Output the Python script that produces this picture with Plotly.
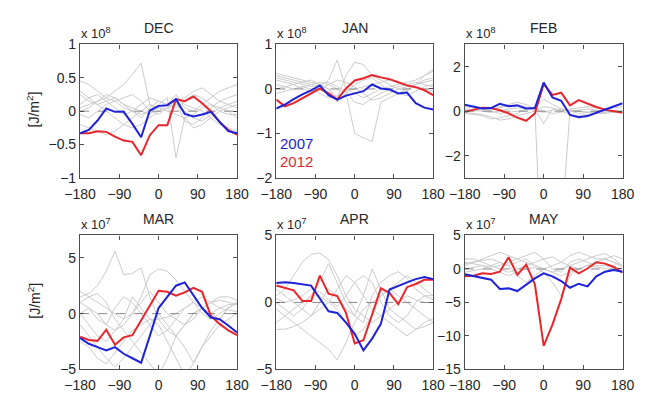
import plotly.graph_objects as go
from plotly.subplots import make_subplots

# ---------------- data ----------------
lons = [-180, -160, -140, -120, -100, -80, -60, -40, -20, 0, 20, 40, 60, 80, 100, 120, 140, 160, 180]
months = ["DEC", "JAN", "FEB", "MAR", "APR", "MAY"]
exponents = [8, 8, 8, 7, 7, 7]
y_ranges = [[-1, 1], [-2, 1], [-3, 3], [-5, 7], [-5, 5], [-15, 5]]
y_ticks = [[-1, -0.5, 0, 0.5, 1], [-2, -1, 0, 1], [-2, 0, 2], [-5, 0, 5], [-5, 0, 5], [-15, -10, -5, 0, 5]]
x_ticks = [-180, -90, 0, 90, 180]
zero_level = [0, 0]

# 2007 (blue)
dec_2007 = [-0.33, -0.28, -0.14, 0.04, -0.01, -0.01, -0.19, -0.39, 0.01, 0.08, 0.09, 0.18, -0.04, -0.08, -0.05, -0.01, -0.16, -0.30, -0.33]
jan_2007 = [-0.44, -0.35, -0.23, -0.12, -0.03, 0.08, -0.14, -0.24, -0.15, -0.10, -0.05, 0.10, 0.01, -0.01, -0.10, -0.08, -0.32, -0.42, -0.46]
feb_2007 = [0.29, 0.19, 0.12, 0.14, 0.33, 0.22, 0.26, 0.12, 0.14, 1.29, 0.62, 0.47, -0.17, -0.27, -0.22, -0.07, 0.07, 0.23, 0.36]
mar_2007 = [-2.2, -2.7, -3.0, -3.3, -3.0, -3.6, -4.0, -4.4, -2.0, 0.5, 1.5, 2.5, 2.8, 1.7, 0.5, -0.35, -0.5, -1.06, -1.7]
apr_2007 = [1.45, 1.5, 1.45, 1.33, 1.26, 0.3, -0.66, -0.78, -1.5, -2.34, -3.58, -2.7, -1.6, 0.97, 1.26, 1.5, 1.74, 1.9, 1.74]
may_2007 = [-0.8, -1.1, -1.4, -1.6, -3.0, -2.9, -3.3, -2.3, -1.4, -0.65, -1.1, -1.8, -2.8, -2.2, -2.6, -1.1, -0.4, -0.17, -0.4]

# 2012 (red)
dec_2012 = [-0.33, -0.33, -0.30, -0.31, -0.38, -0.44, -0.46, -0.66, -0.36, -0.21, -0.21, 0.18, 0.15, 0.22, 0.12, 0.0, -0.16, -0.28, -0.35]
jan_2012 = [-0.24, -0.39, -0.32, -0.21, -0.10, 0.01, -0.10, -0.24, 0.01, 0.19, 0.24, 0.31, 0.26, 0.22, 0.15, 0.08, 0.04, -0.03, -0.14]
feb_2012 = [-0.03, 0.07, 0.16, 0.14, 0.04, -0.10, -0.29, -0.43, -0.10, 1.22, 0.73, 0.83, 0.26, 0.50, 0.33, 0.19, 0.07, 0.01, -0.07]
mar_2012 = [-2.07, -2.36, -2.44, -1.44, -2.79, -2.13, -1.93, -0.63, 0.8, 2.04, 1.95, 1.6, 1.9, 2.3, 1.95, -0.2, -0.92, -1.5, -1.93]
apr_2012 = [1.26, 1.07, 0.9, 0.1, 0.1, 2.0, 0.66, 0.47, -0.78, -3.06, -2.82, -0.9, 1.07, 0.7, -0.13, 1.14, 1.38, 1.69, 1.69]
may_2012 = [-1.1, -1.0, -0.65, -0.75, -0.4, 1.75, -0.9, 0.65, -2.3, -11.5, -8.3, -4.5, 0.2, -0.65, 0.07, 1.0, 0.8, 0.3, -0.55]

# other years (grey)
dec_other = [
    [0.45, 0.40, 0.30, 0.20, 0.15, 0.05, 0.00, -0.05, 0.00, 0.05, 0.10, 0.15, 0.20, 0.30, 0.35, 0.25, 0.15, 0.10, 0.05],
    [0.05, 0.10, 0.15, 0.20, 0.30, 0.40, 0.55, 0.72, 0.10, 0.00, 0.05, 0.10, 0.00, -0.10, -0.15, -0.05, 0.05, 0.10, 0.15],
    [0.25, 0.15, 0.10, 0.15, 0.20, 0.10, 0.05, 0.00, -0.05, 0.10, 0.20, -0.70, -0.10, -0.25, -0.20, -0.10, 0.00, 0.05, 0.10],
    [0.10, 0.20, 0.25, 0.15, 0.05, -0.05, 0.00, 0.10, 0.20, 0.15, 0.10, 0.25, 0.05, 0.00, 0.10, 0.20, 0.30, 0.35, 0.40],
    [-0.05, -0.10, 0.00, 0.10, 0.15, 0.20, 0.25, 0.15, 0.00, -0.05, 0.05, 0.15, -0.15, -0.20, -0.10, 0.05, 0.15, 0.20, 0.25],
    [0.30, 0.20, 0.10, 0.00, -0.10, -0.20, -0.25, -0.20, -0.10, 0.00, 0.10, 0.20, 0.10, 0.05, 0.00, -0.10, -0.20, -0.25, -0.30],
    [0.00, 0.05, 0.15, 0.25, 0.20, 0.10, 0.00, -0.10, 0.05, 0.15, 0.10, 0.05, 0.15, 0.25, 0.20, 0.10, 0.00, -0.05, -0.05],
    [-0.20, -0.25, -0.30, -0.35, -0.30, -0.20, -0.10, 0.00, 0.10, 0.05, 0.00, -0.05, -0.10, -0.05, 0.05, 0.10, 0.05, 0.00, -0.10],
]
jan_other = [
    [0.10, 0.05, 0.00, 0.05, 0.10, 0.15, 0.10, 0.00, -0.10, -1.00, -1.10, -1.18, -0.30, -0.20, -0.10, 0.00, 0.10, 0.15, 0.20],
    [0.30, 0.25, 0.20, 0.15, 0.10, 0.05, 0.20, 0.65, 0.00, -0.10, -0.20, -0.10, 0.00, 0.05, 0.10, 0.15, 0.20, 0.30, 0.40],
    [0.35, 0.30, 0.25, 0.20, 0.15, 0.10, 0.00, -0.20, 0.30, 0.60, 0.55, 0.30, 0.20, 0.10, 0.00, -0.05, 0.10, 0.30, 0.45],
    [0.20, 0.15, 0.10, 0.00, -0.05, 0.00, 0.10, 0.20, 0.15, 0.05, -0.10, -0.25, -0.20, -0.10, 0.00, 0.05, 0.10, 0.20, 0.25],
    [0.00, 0.05, 0.10, 0.15, 0.20, 0.10, 0.00, -0.30, -0.10, 0.10, 0.20, 0.25, 0.10, -0.05, -0.10, -0.15, -0.05, 0.05, 0.10],
    [-0.10, -0.05, 0.00, 0.05, 0.00, -0.10, -0.20, -0.15, -0.05, -0.30, -0.35, -0.20, -0.10, 0.00, 0.05, 0.10, 0.05, 0.00, -0.05],
    [0.25, 0.20, 0.15, 0.10, 0.05, 0.10, 0.15, 0.05, -0.05, 0.00, 0.05, 0.10, 0.15, 0.20, 0.15, 0.10, 0.15, 0.10, 0.05],
]
feb_other = [
    [0.00, 0.05, 0.10, 0.00, -0.10, -0.05, 0.00, 0.05, 0.10, -9.0, -10.0, -5.5, 0.05, 0.00, -0.05, 0.00, 0.05, 0.00, -0.05],
    [0.10, 0.05, 0.00, -0.05, 0.00, 0.10, 0.15, 0.10, 0.10, -0.56, 0.10, 0.05, 0.00, 0.05, 0.10, 0.05, 0.00, -0.05, 0.00],
    [-0.10, -0.15, -0.20, -0.35, -0.30, -0.20, -0.10, 0.10, 0.20, 0.55, 0.30, 0.10, 0.00, -0.10, -0.05, 0.00, 0.05, 0.00, -0.05],
    [0.20, 0.15, 0.10, 0.05, 0.20, 0.30, 0.40, 0.30, 0.10, 0.00, -0.10, -0.05, 0.10, 0.15, 0.20, 0.15, 0.10, 0.15, 0.20],
    [-0.05, -0.10, -0.15, -0.25, -0.40, -0.35, -0.20, -0.10, 0.00, 0.20, 0.15, 0.00, -0.15, -0.20, -0.15, -0.10, -0.05, 0.00, 0.05],
    [0.05, 0.00, 0.05, 0.10, 0.15, 0.25, 0.30, 0.20, 0.00, -0.05, 0.05, 0.10, 0.05, 0.00, -0.05, -0.10, -0.10, -0.05, 0.00],
]
mar_other = [
    [1.5, 1.8, 2.5, 3.8, 5.6, 3.5, 3.6, 4.1, 1.5, -0.5, -1.5, -2.0, -1.0, 0.0, 0.5, 0.0, -0.5, 0.5, 1.0],
    [-1.0, -2.0, -3.0, -4.0, -4.8, -4.0, -3.0, -2.0, -1.0, 0.0, -1.0, -2.0, -3.0, -4.4, -3.0, -1.5, -0.5, 0.5, 1.0],
    [0.0, 0.5, 0.0, -1.0, -1.5, -1.0, 0.0, 1.5, 3.5, 4.0, 3.8, 3.0, 2.0, 1.0, 0.0, -0.5, 0.0, 0.5, 1.0],
    [1.0, 0.5, -0.5, -1.0, 0.5, 1.5, 1.0, 0.0, -1.0, -2.0, -1.5, -0.5, 0.5, 1.0, 0.5, 0.0, 0.5, 0.8, 0.9],
    [0.0, -1.0, -2.0, -2.5, -1.5, -0.5, 1.5, 0.5, -0.5, -1.0, -2.5, -4.0, -5.5, -4.5, -3.0, -2.0, -1.0, -0.5, 0.0],
    [-2.5, -3.0, -4.0, -4.5, -3.5, -2.5, -1.5, -1.0, -0.5, -0.5, -0.3, 0.0, 0.5, 1.0, 1.5, 1.0, 0.5, 0.3, 0.2],
    [2.0, 1.5, 1.0, 0.5, 0.0, -0.5, 0.0, 1.0, 2.0, 1.0, 0.0, -0.5, -1.0, -0.5, 0.5, 1.0, 1.2, 1.0, 0.8],
    [1.0, 1.5, 1.8, 1.0, -0.5, -1.5, -2.5, -3.5, -4.5, -5.5, -4.0, -2.0, -1.0, 0.0, 0.5, 1.0, 1.5, 1.5, 1.2],
]
apr_other = [
    [0.5, 1.0, 2.0, 3.0, 3.6, 3.7, 3.2, 2.0, 0.5, -0.5, -1.0, -1.5, -1.0, -0.5, 0.0, 0.5, 0.2, 0.0, 0.0],
    [-0.5, -1.0, -1.5, -2.0, -2.5, -3.0, -3.5, -4.3, -3.0, -1.5, -0.5, 0.0, 0.5, 1.0, 1.5, 2.0, 1.5, 1.0, 0.5],
    [-2.0, -2.0, -1.8, -1.5, -1.0, -0.5, 0.0, 1.0, 2.0, 1.5, 0.5, -0.5, -1.0, -1.5, -2.0, -2.5, -2.0, -1.5, -1.2],
    [0.0, -0.5, -1.0, -0.5, 0.5, 1.5, 2.9, 1.5, 0.0, -1.0, -1.5, 0.5, 1.5, 2.0, 2.3, 1.8, 1.0, 0.5, 0.2],
    [1.0, 0.5, 0.0, -0.5, -1.0, 0.0, 1.0, 0.5, -0.5, -1.0, 0.5, 2.5, 1.0, -0.5, -1.0, -1.5, -2.0, -1.8, -1.5],
    [-1.5, -1.0, -0.5, 0.0, 0.5, 0.5, 0.0, -0.5, -1.5, -2.5, -2.0, -1.0, 0.5, 1.0, 0.5, 0.0, -0.5, -1.0, -1.5],
    [0.3, 0.0, 0.2, 0.5, 1.0, 0.8, 0.2, -0.3, 0.5, 1.5, 2.0, 1.5, 0.0, -1.0, -1.5, -1.0, 0.0, 0.5, 0.5],
]
may_other = [
    [0.5, 1.0, 1.5, 2.0, 2.5, 2.0, 1.5, 1.0, 0.5, 0.0, 0.5, 1.0, 2.0, 2.5, 2.0, 1.5, 1.5, 1.0, 0.5],
    [1.0, 0.8, 0.5, 0.3, 0.5, 1.0, 1.5, 2.0, 2.5, 1.5, 0.0, -0.5, 1.0, 1.5, 1.0, 0.5, 0.5, 0.3, 0.0],
    [0.0, 0.2, 0.5, 0.0, -0.5, -1.0, -0.5, 0.0, 0.2, -0.5, -2.0, -4.0, -1.0, 0.0, 0.5, 1.0, 1.5, 1.0, 0.3],
    [1.5, 1.5, 1.0, 0.5, 0.0, -0.5, 0.0, 0.5, 1.0, 1.5, 1.8, 1.0, 0.5, 0.0, 0.5, 1.0, 1.5, 2.0, 1.5],
    [-0.5, -0.3, 0.0, 0.5, 1.0, 0.5, -1.0, -2.0, -1.0, 0.0, -0.5, -1.0, -0.5, 0.0, 0.5, 0.3, 0.0, -0.2, -0.3],
    [0.8, 1.0, 1.2, 1.5, 1.0, 0.5, 1.0, 1.5, 0.5, 0.0, -0.5, 0.0, 0.5, 1.0, 1.5, 2.0, 2.3, 1.5, 0.5],
]

series_2007 = [dec_2007, jan_2007, feb_2007, mar_2007, apr_2007, may_2007]
series_2012 = [dec_2012, jan_2012, feb_2012, mar_2012, apr_2012, may_2012]
series_other = [dec_other, jan_other, feb_other, mar_other, apr_other, may_other]

# ---------------- styling ----------------
W, H = 648, 399
FONT = "Liberation Sans, Arial, Helvetica, sans-serif"
TXT = "#262626"
FRAME = "#4d4d4d"
GREY = "#cbcbcb"
BLUE = "#1e22d8"
RED = "#e8262b"

col_px = [(67, 231), (272, 436), (469, 634)]
row_px = [(38, 177), (237, 376.5)]

fig = make_subplots(rows=2, cols=3)

for i in range(6):
    r, c = i // 3 + 1, i % 3 + 1
    for g in series_other[i]:
        fig.add_trace(go.Scatter(x=lons, y=g, mode="lines", line=dict(color=GREY, width=1),
                                 showlegend=False, hoverinfo="skip"), row=r, col=c)
    fig.add_trace(go.Scatter(x=[lons[0], lons[-1]], y=zero_level, mode="lines",
                             line=dict(color="#8a8a8a", width=1, dash="dash"),
                             showlegend=False, hoverinfo="skip"), row=r, col=c)
    fig.add_trace(go.Scatter(x=lons, y=series_2012[i], mode="lines", line=dict(color=RED, width=2),
                             name="2012", showlegend=False), row=r, col=c)
    fig.add_trace(go.Scatter(x=lons, y=series_2007[i], mode="lines", line=dict(color=BLUE, width=2),
                             name="2007", showlegend=False), row=r, col=c)

annotations = []
for i in range(6):
    r, c = i // 3, i % 3
    x0, x1 = col_px[c]
    y0, y1 = row_px[r]
    ax = "" if i == 0 else str(i + 1)
    fig.layout["xaxis" + ax].update(
        domain=[x0 / W, x1 / W], range=[-180, 180], tickvals=x_ticks,
        ticks="inside", ticklen=4, tickcolor=FRAME, showline=True, linecolor=FRAME, linewidth=1.3,
        mirror="ticks", showgrid=False, zeroline=False, ticklabelstandoff=3,
        tickfont=dict(family=FONT, size=14, color=TXT))
    fig.layout["yaxis" + ax].update(
        domain=[1 - y1 / H, 1 - y0 / H], range=y_ranges[i], tickvals=y_ticks[i],
        ticks="inside", ticklen=4, tickcolor=FRAME, showline=True, linecolor=FRAME, linewidth=1.3,
        mirror="ticks", showgrid=False, zeroline=False,
        tickfont=dict(family=FONT, size=14, color=TXT))
    # title
    annotations.append(dict(text=months[i], x=(x0 + x1) / 2 / W, y=1 - (y0 - 17) / H,
                            xref="paper", yref="paper", xanchor="center", yanchor="middle",
                            showarrow=False, font=dict(family=FONT, size=14, color=TXT)))
    # exponent
    annotations.append(dict(text="x 10<sup>%d</sup>" % exponents[i], x=(x0 - 1) / W, y=1 - (y0 - 2) / H,
                            xref="paper", yref="paper", xanchor="left", yanchor="bottom",
                            showarrow=False, font=dict(family=FONT, size=13, color=TXT)))

for r in range(2):
    y0, y1 = row_px[r]
    annotations.append(dict(text="[J/m<sup>2</sup>]", x=18 / W, y=1 - ((y0 + y1) / 2 - 2) / H,
                            xref="paper", yref="paper", xanchor="center", yanchor="middle",
                            textangle=-90, showarrow=False, font=dict(family=FONT, size=14, color=TXT)))

annotations.append(dict(text="2007", x=274 / W, y=1 - 141 / H, xref="paper", yref="paper",
                        xanchor="left", yanchor="middle", showarrow=False,
                        font=dict(family=FONT, size=15, color=BLUE)))
annotations.append(dict(text="2012", x=274 / W, y=1 - 160 / H, xref="paper", yref="paper",
                        xanchor="left", yanchor="middle", showarrow=False,
                        font=dict(family=FONT, size=15, color=RED)))

fig.update_layout(width=W, height=H, margin=dict(l=0, r=0, t=0, b=0),
                  paper_bgcolor="white", plot_bgcolor="white",
                  annotations=annotations, showlegend=False,
                  font=dict(family=FONT, color=TXT))

fig.write_html("out.html")
